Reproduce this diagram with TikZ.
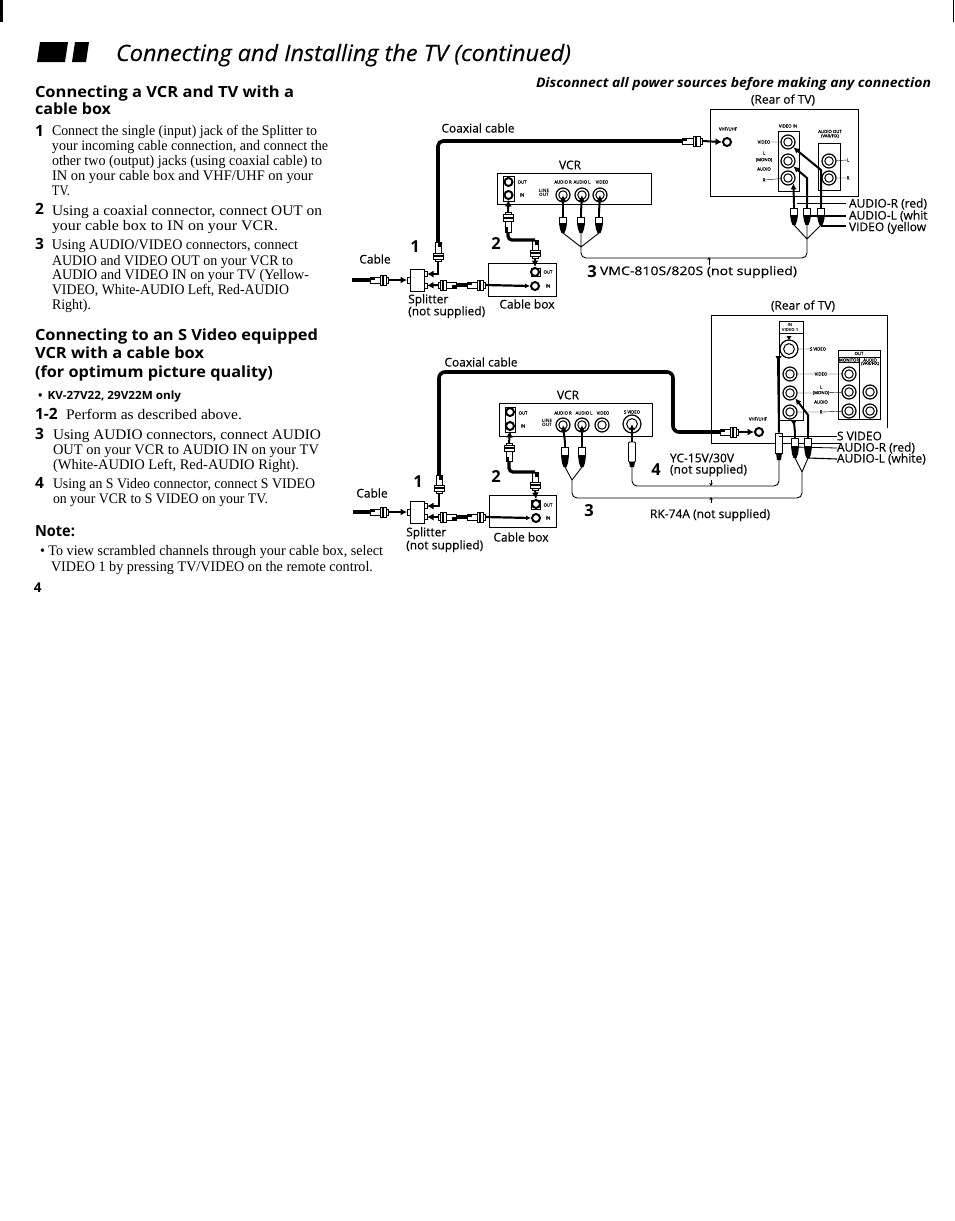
\documentclass[tikz,border=0pt]{standalone}
\usepackage{fontspec}
\usepackage{graphicx}
\usetikzlibrary{arrows.meta}
\setmainfont{Liberation Serif}
\newfontfamily\sansf{Open Sans}
\newfontfamily\sansmid[FakeBold=0.3]{Open Sans}
\newcommand{\fs}[1]{\fontsize{#1}{#1}\selectfont}
\tikzset{
 x=1pt,y=-1pt,
 txt/.style={anchor=base west,inner sep=0,outer sep=0},
 body/.style={txt,font=\fs{14.6}\rmfamily},
 head/.style={txt,font=\fs{15.4}\sansf\bfseries},
 num/.style={txt,font=\fs{15.5}\sansf\bfseries},
 lab/.style={anchor=west,inner sep=0,outer sep=0,font=\fs{12}\sansmid},
 bignum/.style={inner sep=0,font=\fs{16.5}\sansf\bfseries},
 vcrl/.style={inner sep=0,font=\fs{12}\sansmid},
 tinyl/.style={inner sep=0,font=\fs{4.3}\sansmid,align=center},
 panel/.style={draw,line width=.8,inner sep=0,outer sep=0,anchor=north west},
 coax/.style={line width=3.6,rounded corners=5},
 cab/.style={line width=3.2,rounded corners=4},
 thinw/.style={line width=.9,rounded corners=5},
 lead/.style={line width=.8},
 arr/.style={line width=2,-{Latex[length=6.5pt,width=7pt]}},
 barr/.style={line width=2,-{Latex[length=6pt,width=6pt]}},
}
\newcommand{\Txt}[5]{\node[#4] (#1) at (#2,#3) {#5};}
% name x y xend style text: a line set to the width the reference gives it
\newcommand{\Fit}[6]{\node[#5] (#1) at (#2,#3) {\resizebox{\dimexpr#4pt-#2pt\relax}{\height}{#6}};}
\newcommand{\Rca}[4]{%
 \node[circle,draw,line width=1.2,fill=white,minimum size=#4*2,inner sep=0] (#1) at (#2,#3) {};
 \node[circle,draw,line width=1,minimum size=#4*1.2,inner sep=0] (#1-i) at (#2,#3) {};}
\newcommand{\Port}[3]{%
 \node[circle,draw,line width=2,fill=white,minimum size=8,inner sep=0] (#1) at (#2,#3) {};}
\newcommand{\Fplug}[5]{% name x y angle length
 \node[rotate=#4,minimum width=#5,minimum height=10,inner sep=0,outer sep=0] (#1) at (#2,#3) {};
 \begin{scope}[shift={(#2,#3)},rotate=#4,line width=.8]
  \draw[fill=white] (-#5/2,-3) rectangle (#5*0.05,3);
  \fill (-#5/2,-3) rectangle (-#5/4,0);
  \draw[fill=white] (#5*0.05,-5) rectangle (#5/2-2,5);
  \fill (#5*0.05+2,-5) rectangle (#5*0.05+4,5);
  \draw[fill=white] (#5/2-2,-3) rectangle (#5/2,3);
 \end{scope}}
\newcommand{\Rplug}[4]{% name x ytop ybot
 \node[minimum width=8,inner sep=0,outer sep=0,minimum height=#4-#3] (#1) at (#2,{(#3+#4)/2}) {};
 \draw[line width=.8,fill=white] (#2-3.5,#3+5) rectangle (#2+3.5,{(#3+#4)/2+1});
 \draw[line width=1.6] (#2,#3) -- (#2,#3+5);
 \fill (#2-4,{(#3+#4)/2+1}) -- (#2+4,{(#3+#4)/2+1}) -- (#2+3,#4-4) -- (#2+1.5,#4) -- (#2-1.5,#4) -- (#2-3,#4-4) -- cycle;}
\begin{document}
\begin{tikzpicture}
\useasboundingbox (0,0) rectangle (954,1221);
\fill[white] (0,0) rectangle (954,1221);
\fill (0,0) rectangle (2.5,22);
\fill (952.5,0) rectangle (954,22);
\fill (40,42) -- (68,42) -- (65,62) -- (37,62) -- cycle;
\fill (75,42) -- (89,42) -- (86,62) -- (72,62) -- cycle;
% ---- page text
\Fit{title}{116}{61}{571}{txt,font=\fs{22.5}\sansmid\itshape}{Connecting and Installing the TV (continued)}
\Fit{warn}{536}{87}{931}{txt,font=\fs{13.2}\sansf\bfseries\itshape}{Disconnect all power sources before making any connection}
\Fit{h1a}{35}{97}{294}{head}{Connecting a VCR and TV with a}
\Fit{h1b}{35}{114}{111}{head}{cable box}
\Txt{n1}{35}{136}{num}{1}
\Fit{l1a}{52}{135}{317}{body}{Connect the single (input) jack of the Splitter to}
\Fit{l1b}{52}{150}{328}{body}{your incoming cable connection, and connect the}
\Fit{l1c}{52}{165}{322}{body}{other two (output) jacks (using coaxial cable) to}
\Fit{l1d}{52}{180}{313}{body}{IN on your cable box and VHF/UHF on your}
\Fit{l1e}{52}{195}{70}{body}{TV.}
\Txt{n2}{35}{214}{num}{2}
\Fit{l2a}{52}{215}{322}{body}{Using a coaxial connector, connect OUT on}
\Fit{l2b}{52}{230}{278}{body}{your cable box to IN on your VCR.}
\Txt{n3}{35}{249}{num}{3}
\Fit{l3a}{52}{249}{298}{body}{Using AUDIO/VIDEO connectors, connect}
\Fit{l3b}{52}{265}{293}{body}{AUDIO and VIDEO OUT on your VCR to}
\Fit{l3c}{52}{279}{309}{body}{AUDIO and VIDEO IN on your TV (Yellow-}
\Fit{l3d}{52}{294}{289}{body}{VIDEO, White-AUDIO Left, Red-AUDIO}
\Fit{l3e}{52}{309}{91}{body}{Right).}
\Fit{h2a}{35}{340}{318}{head}{Connecting to an S Video equipped}
\Fit{h2b}{35}{358}{204}{head}{VCR with a cable box}
\Fit{h2c}{35}{377}{273}{head}{(for optimum picture quality)}
\Fit{kv}{38}{399}{181}{txt,font=\fs{11.3}\sansf\bfseries}{•\hspace{5pt}KV-27V22, 29V22M only}
\Txt{n12}{35}{419}{num}{1-2}
\Fit{l4a}{66}{419}{242}{body}{Perform as described above.}
\Txt{n3b}{35}{439}{num}{3}
\Fit{l5a}{53}{439}{321}{body}{Using AUDIO connectors, connect AUDIO}
\Fit{l5b}{53}{454}{319}{body}{OUT on your VCR to AUDIO IN on your TV}
\Fit{l5c}{53}{469}{299}{body}{(White-AUDIO Left, Red-AUDIO Right).}
\Txt{n4}{35}{488}{num}{4}
\Fit{l6a}{53}{488}{315}{body}{Using an S Video connector, connect S VIDEO}
\Fit{l6b}{53}{503}{268}{body}{on your VCR to S VIDEO on your TV.}
\Fit{note}{35}{536}{75}{head}{Note:}
\Fit{nb}{40}{555}{383}{body}{• To view scrambled channels through your cable box, select}
\Fit{nc}{51}{571}{373}{body}{VIDEO 1 by pressing TV/VIDEO on the remote control.}
\Txt{pg}{34}{592}{txt,font=\fs{13.5}\sansf\bfseries}{4}
% ================= Diagram 1 =================
\node[panel,minimum width=154,minimum height=31] (vcrA) at (497,173) {};
\node[panel,minimum width=148,minimum height=87] (tvA) at (710,109) {};
\node[panel,minimum width=68,minimum height=33] (boxA) at (488,263) {};
\node[panel,minimum width=14,minimum height=22,fill=white] (splA) at (410,269) {};
\node[panel,minimum width=3,minimum height=6,fill=white] (splAn) at (407,277) {};
\node[panel,minimum width=3,minimum height=5,fill=white] (splAa) at (424,271.5) {};
\node[panel,minimum width=3,minimum height=5,fill=white] (splAb) at (424,283) {};
\node[vcrl] (cA) at (570,165) {VCR};
\node[vcrl] (rearA) at (783,100) {(Rear of TV)};
\node[vcrl] (coaxA) at (478,128) {Coaxial cable};
\node[vcrl] (cableA) at (375,259) {Cable};
\node[vcrl] (boxlA) at (527,304) {Cable box};
\node[vcrl,align=left,anchor=north west,font=\fontsize{12}{12}\sansmid] (splitA) at (408,294) {Splitter\\(not supplied)};
\node[bignum] (b1A) at (415,247) {1};
\node[bignum] (b2A) at (496,244) {2};
\node[bignum] (b3A) at (592,272) {3};
\node[lab] (vmc) at (600,272) {\resizebox{197pt}{\height}{VMC-810S/820S (not supplied)}};
% VCR ports
\node[panel,minimum width=11,minimum height=25] (vcrAio) at (503,176) {};
\Port{vAo}{508.5}{182}
\Port{vAi}{508.5}{195}
\node[tinyl] (tAo) at (522,182) {OUT};
\node[tinyl] (tAi) at (522,195) {IN};
\node[tinyl,font=\fs{4.6}\sansf\bfseries] (tAl) at (544,193) {LINE\\[-1pt]OUT};
\node[tinyl] (tAr) at (563,182) {AUDIO R};
\node[tinyl] (tAL) at (582,182) {AUDIO L};
\node[tinyl] (tAv) at (602,182) {VIDEO};
\Rca{vAr}{563}{195}{7}
\Rca{vAl}{582}{195}{7}
\Rca{vAv}{600}{195}{7}
% cable box ports
\node[panel,minimum width=9,minimum height=8] (boxAr) at (531,268) {};
\Port{bAo}{535}{272}
\Port{bAi}{535}{286}
\node[tinyl] (tbo) at (548,272) {OUT};
\node[tinyl] (tbi) at (548,286) {IN};
% TV ports
\node[tinyl] (tvuA) at (728,129) {VHF/UHF};
\Port{tAp}{727}{142}
\node[panel,minimum width=21,minimum height=60] (tvinA) at (778,131) {};
\node[panel,minimum width=22,minimum height=47] (tvoutA) at (818,143) {};
\node[tinyl] (tvi) at (788,126) {VIDEO IN};
\node[tinyl] (tvo) at (830,134) {AUDIO OUT\\(VAR/FIX)};
\Rca{tAv}{788}{142}{7}
\Rca{tAl}{788}{161}{7}
\Rca{tAr}{788}{178}{7}
\Rca{tAol}{829}{161}{7}
\Rca{tAor}{829}{178}{7}
\node[tinyl] (t1v) at (764,142) {VIDEO};
\node[tinyl] (t1L) at (764,153) {L};
\node[tinyl] (t1m) at (764,160) {(MONO)};
\node[tinyl] (t1a) at (764,169) {AUDIO};
\node[tinyl] (t1R) at (764,180) {R};
\node[tinyl] (t1oL) at (848,160) {L};
\node[tinyl] (t1oR) at (848,178) {R};
\draw[lead,line width=.4] (t1v) -- (tAv) (t1R) -- (tAr) (t1oL) -- (tAol) (t1oR) -- (tAor);
% plugs
\Fplug{pCabA}{379}{280}{0}{18}
\Fplug{pSplA}{438}{252}{-90}{19}
\Fplug{pLoA}{447}{285}{180}{18}
\Fplug{pLoB}{476}{285}{0}{18}
\Fplug{pVcrA}{508}{222}{90}{20}
\Fplug{pBoxA}{535}{249}{-90}{18}
\Fplug{pTvA}{692}{141}{0}{20}
\node[inner sep=0] (cabEndA) at (352,280) {};
\draw[coax] (pCabA.west) -- (cabEndA.center);
\draw[arr] (pCabA.east) -- (splAn.west);
\draw[coax] (pSplA.west) |- (pTvA.west);
\draw[arr] (pSplA.east) |- (splAa.east);
\draw[arr] (pLoA.east) -- (splAb.east);
\draw[cab,rounded corners=0] (pLoA.west) -- (pLoB.west);
\draw[cab,line width=2.2,-{Latex[length=5pt,width=5pt]}] (pLoB.east) -- (bAi.west);
\draw[arr] (pVcrA.east) -- (vAi.south);
\draw[cab] (pVcrA.west) |- (pBoxA.west);
\draw[arr] (pBoxA.east) -- (bAo.north);
\draw[arr] (pTvA.east) -- (tAp.west);
% RCA plugs
\Rplug{rAr}{563}{212}{233}
\Rplug{rAl}{581}{212}{233}
\Rplug{rAv}{599}{212}{233}
\draw[barr] (rAr.north) -- (vAr.center);
\draw[barr] (rAl.north) -- (vAl.center);
\draw[barr] (rAv.north) -- (vAv.center);
\Rplug{rTr}{794}{203}{225}
\Rplug{rTl}{807}{203}{225}
\Rplug{rTv}{821}{203}{225}
\draw[barr] (rTr.north) -- (tAr.south east);
\draw[barr] (rTl.north) -- (807,178) -- (tAl.south east);
\draw[barr] (rTv.north) -- (821,170) -- (tAv.south east);
\coordinate (yA1) at (581,247);
\coordinate (yA2) at (807,239);
\draw[thinw,rounded corners=0] (rAr.south) -- (yA1) (rAl.south) -- (yA1) (rAv.south) -- (yA1);
\draw[thinw,rounded corners=0] (rTr.south) -- (yA2) (rTl.south) -- (yA2) (rTv.south) -- (yA2);
\draw[thinw] (yA1) |- (807,258) -- (yA2);
\node[lab] (lAr) at (849,204) {AUDIO-R (red)};
\node[lab] (lAl) at (849,216) {AUDIO-L (whit};
\node[lab] (lAv) at (849,228) {VIDEO (yellow};
\draw[lead] (lAr.west) ++(-3,-1) -- (797,203);
\draw[lead,line width=1.1] (lAl.west) ++(-3,0) -- (807,216);
\draw[lead,line width=1.1] (lAv.west) ++(-3,-2) -- (821,226);
\coordinate (tkA) at (709,265);
\draw[line width=1,-{Stealth[length=3pt,width=3.5pt]}] (tkA) -- (709,257);
% ================= Diagram 2 =================
\node[panel,minimum width=153,minimum height=33] (vcrB) at (499,403) {};
\node[panel,minimum width=67,minimum height=32] (boxB) at (489,495) {};
\node[panel,minimum width=14,minimum height=22,fill=white] (splB) at (410,501) {};
\node[panel,minimum width=3,minimum height=6,fill=white] (splBn) at (407,509) {};
\node[panel,minimum width=3,minimum height=5,fill=white] (splBa) at (424,503.5) {};
\node[panel,minimum width=3,minimum height=5,fill=white] (splBb) at (424,514.5) {};
\draw[line width=.8] (840,443) -- (711,443) -- (711,315) -- (887,315) -- (887,428);
\node[vcrl] (cB) at (568,395) {VCR};
\node[vcrl] (rearB) at (803,306) {(Rear of TV)};
\node[vcrl] (coaxB) at (481,362) {Coaxial cable};
\node[vcrl] (cableB) at (372,493) {Cable};
\node[vcrl] (boxlB) at (521,537) {Cable box};
\node[vcrl,align=left,anchor=north west,font=\fontsize{12}{11.5}\sansmid] (splitB) at (406,527) {Splitter\\(not supplied)};
\node[bignum] (b1B) at (418,482) {1};
\node[bignum] (b2B) at (496,477) {2};
\node[bignum] (b3B) at (589,511) {3};
\node[bignum] (b4B) at (656,470) {4};
\node[lab,align=left,font=\fontsize{12}{11.3}\sansmid] (yc) at (670,465) {YC-15V/30V\\(not supplied)};
\node[lab] (rk) at (650,515) {RK-74A (not supplied)};
% VCR ports
\node[panel,minimum width=10,minimum height=25] (vcrBio) at (505,407) {};
\Port{vBo}{510}{412}
\Port{vBi}{510}{426}
\node[tinyl] (uBo) at (523,413) {OUT};
\node[tinyl] (uBi) at (523,426) {IN};
\node[tinyl,font=\fs{4.6}\sansf\bfseries] (uBl) at (547,423) {LINE\\[-1pt]OUT};
\node[tinyl] (uBr) at (563,413) {AUDIO R};
\node[tinyl] (uBL) at (584,413) {AUDIO L};
\node[tinyl] (uBv) at (603,413) {VIDEO};
\node[tinyl] (uBs) at (632,412) {S VIDEO};
\Rca{vBr}{563}{425}{7}
\Rca{vBl}{582}{425}{7}
\Rca{vBv}{602}{425}{7}
\Rca{vBs}{632}{424}{9}
% cable box
\node[panel,minimum width=9,minimum height=9] (boxBr) at (531.5,500) {};
\Port{bBo}{536}{504}
\Port{bBi}{536}{518}
\node[tinyl] (ubo) at (548,505) {OUT};
\node[tinyl] (ubi) at (548,518) {IN};
% TV ports
\node[tinyl] (tvuB) at (758,419) {VHF/UHF};
\Port{tBp}{759}{432}
\node[panel,minimum width=24,minimum height=99] (tvinB) at (779,321) {};
\draw[line width=.5] (779,333) -- (803,333);
\node[tinyl,font=\fs{4.2}\sansf\bfseries] (uin) at (790,324.5) {IN};
\node[tinyl,font=\fs{4.2}\sansf\bfseries] (uv1) at (790,330) {VIDEO 1};
\node[panel,minimum width=42,minimum height=69] (tvoutB) at (838,350) {};
\draw[line width=.5] (838,357) -- (880,357) (838,362) -- (859,362) (859,357) -- (859,419);
\node[tinyl] (uot) at (859,353.5) {OUT};
\node[tinyl] (umon) at (849,360) {MONITOR};
\node[tinyl] (uaud) at (870,362) {AUDIO\\[-1pt](VAR/FIX)};
\fill (786.5,336) -- (791.5,336) -- (789,340) -- cycle;
\Rca{tBs}{789}{349}{9}
\Rca{tBv}{790}{374}{7}
\Rca{tBl}{790}{393}{7}
\Rca{tBr}{790}{412}{7}
\Rca{oBv}{849}{374}{7}
\Rca{oBl}{849}{392}{7}
\Rca{oBr}{849}{411}{7}
\Rca{oBa}{870}{392}{7}
\Rca{oBb}{870}{411}{7}
\node[tinyl] (us) at (818,349) {S VIDEO};
\node[tinyl] (uvd) at (821,374) {VIDEO};
\node[tinyl] (uL) at (821,387) {L};
\node[tinyl] (um) at (821,393) {(MONO)};
\node[tinyl] (uau) at (821,402) {AUDIO};
\node[tinyl] (uR) at (821,412) {R};
\draw[lead,line width=.4] (tBs) -- (us) (tBv) -- (uvd) (uvd) -- (oBv) (tBl) -- (um) (um) -- (oBl) (tBr) -- (uR) (uR) -- (oBr);
% plugs
\Fplug{pCabB}{379}{512}{0}{18}
\Fplug{pSplB}{439}{484}{-90}{18}
\Fplug{pLoC}{447}{517}{180}{18}
\Fplug{pLoD}{476}{517}{0}{18}
\Fplug{pVcrB}{509}{452}{90}{18}
\Fplug{pBoxB}{535}{481}{-90}{18}
\Fplug{pTvB}{729}{432}{0}{18}
\node[inner sep=0] (cabEndB) at (353,512) {};
\draw[coax] (pCabB.west) -- (cabEndB.center);
\draw[arr] (pCabB.east) -- (splBn.west);
\coordinate (bendB) at (673,372);
\draw[coax,rounded corners=6] (pSplB.west) |- (bendB) |- (pTvB.west);
\draw[arr] (pSplB.east) |- (splBa.east);
\draw[arr] (pLoC.east) -- (splBb.east);
\draw[cab,rounded corners=0] (pLoC.west) -- (pLoD.west);
\draw[cab,line width=2.2,-{Latex[length=5pt,width=5pt]}] (pLoD.east) -- (bBi.west);
\draw[arr] (pVcrB.east) -- (vBi.south);
\draw[cab] (pVcrB.west) |- (pBoxB.west);
\draw[arr] (pBoxB.east) -- (bBo.north);
\draw[arr] (pTvB.east) -- (tBp.west);
% RCA plugs
\Rplug{rBr}{565}{442}{467}
\Rplug{rBl}{582}{442}{467}
\node[draw,line width=.8,fill=white,rounded corners=1,minimum width=7,minimum height=20,inner sep=0] (sB) at (632,452) {};
\fill (629,462) -- (635,462) -- (634,467) -- (630,467) -- cycle;
\draw[barr] (rBr.north) -- (vBr.center);
\draw[barr] (rBl.north) -- (vBl.center);
\draw[barr] (sB.north) -- (vBs.center);
\Rplug{rTr2}{795}{433}{458}
\Rplug{rTl2}{808}{433}{458}
\node[draw,line width=.8,fill=white,minimum width=7,minimum height=20,inner sep=0] (sT) at (779,443) {};
\fill (776,453) -- (782,453) -- (781,460) -- (777,460) -- cycle;
\draw[barr] (sT.north) -- (778,358) -- (tBs.south west);
\draw[barr] (rTr2.north) -- (794,422) -- (tBr.south);
\draw[barr] (rTl2.north) -- (808,415) -- (tBl.south east);
\coordinate (yB1) at (572,480);
\coordinate (yB2) at (802,472);
\draw[thinw,rounded corners=0] (rBr.south) -- (yB1) (rBl.south) -- (yB1);
\draw[thinw,rounded corners=0] (rTr2.south) -- (yB2) (rTl2.south) -- (yB2);
\draw[thinw] (yB1) |- (802,498) -- (yB2);
\coordinate (sBend) at (632,467);
\coordinate (sTend) at (779,460);
\draw[thinw] (sBend) |- (779,486) -- (sTend);
\node[lab] (lBs) at (837,436) {S VIDEO};
\node[lab] (lBr) at (837,448) {AUDIO-R (red)};
\node[lab] (lBl) at (837,459) {AUDIO-L (white)};
\draw[lead] (lBs.west) -- (779,436);
\draw[lead] (lBr.west) -- (795,447);
\draw[lead,line width=1.1] (lBl.west) -- (808,458);
\coordinate (tkB) at (711,480);
\coordinate (tkC) at (711,503);
\draw[line width=1,-{Stealth[length=3pt,width=3.5pt]}] (tkB) -- (711,486);
\draw[line width=1,-{Stealth[length=3pt,width=3.5pt]}] (tkC) -- (711,497);
\end{tikzpicture}
\end{document}
